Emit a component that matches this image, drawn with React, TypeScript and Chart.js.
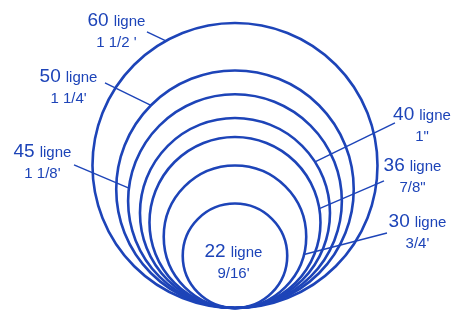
import React, { useEffect, useRef } from "react";
import { Chart, registerables } from "chart.js";

Chart.register(...registerables);

// Button sizes in ligne (1 ligne = 1/40 inch)
const sizes = [60, 50, 45, 40, 36, 30, 22];
const inches = ["1 1/2 '", "1 1/4'", "1 1/8'", '1"', '7/8"', "3/4'", "9/16'"];

// Label anchors (data units) and leader lines
const labelX = [-24.95, -35.05, -40.53, 39.37, 37.37, 38.42, -0.32];
const labelY = [59.37, 47.58, 31.79, 39.58, 28.84, 17.05, 10.74];
const leaderStartX = [-18.53, -27.37, -33.89, 33.68, 31.37, 32.0, NaN];
const leaderStartY = [58.11, 47.37, 30.11, 38.95, 26.74, 15.79, NaN];
const leaderAngle = [119, 135, 173, 32.6, 9.3, -14.4, NaN];

const BLUE = "#1d44b8";
const FONT = "'Liberation Sans', Arial, sans-serif";

const labelPlugin = {
  id: "buttonLabels",
  afterDatasetsDraw(chart: any) {
    const ctx = chart.ctx;
    const xs = chart.scales.x;
    const ys = chart.scales.y;
    ctx.save();
    ctx.fillStyle = BLUE;
    ctx.strokeStyle = BLUE;
    ctx.lineWidth = 1.4;
    sizes.forEach((L, i) => {
      if (!isNaN(leaderAngle[i])) {
        const cx = xs.getPixelForValue(0);
        const cy = ys.getPixelForValue(L / 2);
        const r = ys.getPixelForValue(0) - ys.getPixelForValue(L / 2);
        const a = (leaderAngle[i] * Math.PI) / 180;
        const ex = cx + r * Math.cos(a);
        const ey = cy - r * Math.sin(a);
        ctx.beginPath();
        ctx.moveTo(xs.getPixelForValue(leaderStartX[i]), ys.getPixelForValue(leaderStartY[i]));
        ctx.lineTo(ex, ey);
        ctx.stroke();
      }
      const tx = xs.getPixelForValue(labelX[i]);
      const ty = ys.getPixelForValue(labelY[i]);
      ctx.textBaseline = "alphabetic";
      ctx.textAlign = "left";
      ctx.font = `19px ${FONT}`;
      const num = String(L);
      const wNum = ctx.measureText(num).width;
      ctx.font = `15px ${FONT}`;
      const wL = ctx.measureText("ligne").width;
      const gap = 5;
      const start = tx - (wNum + gap + wL) / 2;
      ctx.font = `19px ${FONT}`;
      ctx.fillText(num, start, ty);
      ctx.font = `15px ${FONT}`;
      ctx.fillText("ligne", start + wNum + gap, ty);
      ctx.textAlign = "center";
      ctx.fillText(inches[i], tx, ty + 21);
    });
    ctx.restore();
  },
};

export default function App() {
  const ref = useRef<HTMLCanvasElement | null>(null);
  useEffect(() => {
    document.body.style.margin = "0";
    const chart = new Chart(ref.current as HTMLCanvasElement, {
      type: "scatter",
      data: {
        datasets: [
          {
            data: sizes.map((L) => ({ x: 0, y: L / 2, size: L })),
            showLine: false,
            pointBackgroundColor: "rgba(0,0,0,0)",
            pointBorderColor: BLUE,
            pointBorderWidth: 2.6,
            pointRadius: (c: any) => {
              const ys = c.chart.scales.y;
              const L = c.raw && c.raw.size ? c.raw.size : 0;
              return ys.getPixelForValue(0) - ys.getPixelForValue(L / 2);
            },
            clip: false,
          } as any,
        ],
      },
      options: {
        animation: false,
        responsive: false,
        maintainAspectRatio: false,
        layout: { padding: 0 },
        events: [],
        plugins: { legend: { display: false }, tooltip: { enabled: false } },
        scales: {
          x: { type: "linear", display: false, min: -49.47, max: 46.11 },
          y: { type: "linear", display: false, min: -0.842, max: 64.84 },
        },
      },
      plugins: [labelPlugin],
    });
    return () => chart.destroy();
  }, []);
  return (
    <div style={{ position: "absolute", left: 0, top: 0, width: 454, height: 312, background: "#fff" }}>
      <canvas ref={ref} width={454} height={312} />
    </div>
  );
}
